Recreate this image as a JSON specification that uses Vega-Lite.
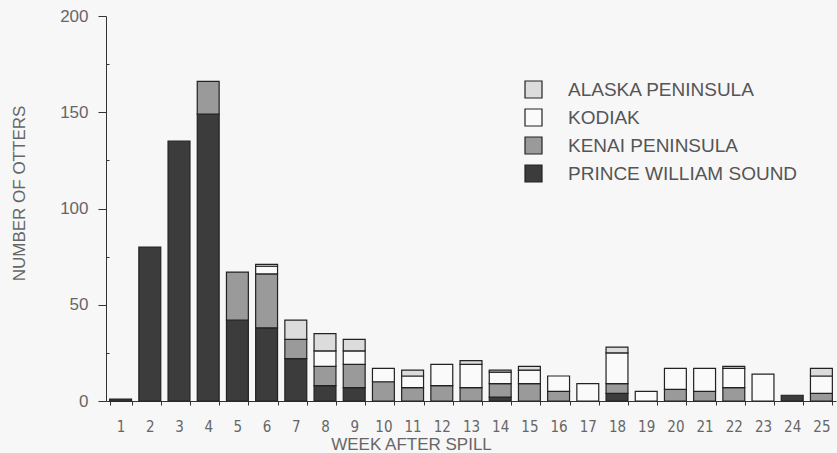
{
  "$schema": "https://vega.github.io/schema/vega-lite/v6.json",
  "width": 730,
  "height": 385,
  "autosize": {"type": "none"},
  "padding": {"left": 106, "top": 16, "right": 1, "bottom": 52},
  "background": "#f7f7f7",
  "config": {
    "view": {"stroke": null},
    "font": "Liberation Sans"
  },
  "data": {
    "values": [
      {"week": 1, "region": "PRINCE WILLIAM SOUND", "count": 1},
      {"week": 2, "region": "PRINCE WILLIAM SOUND", "count": 80},
      {"week": 3, "region": "PRINCE WILLIAM SOUND", "count": 135},
      {"week": 4, "region": "PRINCE WILLIAM SOUND", "count": 149},
      {"week": 4, "region": "KENAI PENINSULA", "count": 17},
      {"week": 5, "region": "PRINCE WILLIAM SOUND", "count": 42},
      {"week": 5, "region": "KENAI PENINSULA", "count": 25},
      {"week": 6, "region": "PRINCE WILLIAM SOUND", "count": 38},
      {"week": 6, "region": "KENAI PENINSULA", "count": 28},
      {"week": 6, "region": "KODIAK", "count": 4},
      {"week": 6, "region": "ALASKA PENINSULA", "count": 1},
      {"week": 7, "region": "PRINCE WILLIAM SOUND", "count": 22},
      {"week": 7, "region": "KENAI PENINSULA", "count": 10},
      {"week": 7, "region": "ALASKA PENINSULA", "count": 10},
      {"week": 8, "region": "PRINCE WILLIAM SOUND", "count": 8},
      {"week": 8, "region": "KENAI PENINSULA", "count": 10},
      {"week": 8, "region": "KODIAK", "count": 8},
      {"week": 8, "region": "ALASKA PENINSULA", "count": 9},
      {"week": 9, "region": "PRINCE WILLIAM SOUND", "count": 7},
      {"week": 9, "region": "KENAI PENINSULA", "count": 12},
      {"week": 9, "region": "KODIAK", "count": 7},
      {"week": 9, "region": "ALASKA PENINSULA", "count": 6},
      {"week": 10, "region": "KENAI PENINSULA", "count": 10},
      {"week": 10, "region": "KODIAK", "count": 7},
      {"week": 11, "region": "KENAI PENINSULA", "count": 7},
      {"week": 11, "region": "KODIAK", "count": 6},
      {"week": 11, "region": "ALASKA PENINSULA", "count": 3},
      {"week": 12, "region": "KENAI PENINSULA", "count": 8},
      {"week": 12, "region": "KODIAK", "count": 11},
      {"week": 13, "region": "KENAI PENINSULA", "count": 7},
      {"week": 13, "region": "KODIAK", "count": 12},
      {"week": 13, "region": "ALASKA PENINSULA", "count": 2},
      {"week": 14, "region": "PRINCE WILLIAM SOUND", "count": 2},
      {"week": 14, "region": "KENAI PENINSULA", "count": 7},
      {"week": 14, "region": "KODIAK", "count": 6},
      {"week": 14, "region": "ALASKA PENINSULA", "count": 1},
      {"week": 15, "region": "KENAI PENINSULA", "count": 9},
      {"week": 15, "region": "KODIAK", "count": 7},
      {"week": 15, "region": "ALASKA PENINSULA", "count": 2},
      {"week": 16, "region": "KENAI PENINSULA", "count": 5},
      {"week": 16, "region": "KODIAK", "count": 8},
      {"week": 17, "region": "KODIAK", "count": 9},
      {"week": 18, "region": "PRINCE WILLIAM SOUND", "count": 4},
      {"week": 18, "region": "KENAI PENINSULA", "count": 5},
      {"week": 18, "region": "KODIAK", "count": 16},
      {"week": 18, "region": "ALASKA PENINSULA", "count": 3},
      {"week": 19, "region": "KODIAK", "count": 5},
      {"week": 20, "region": "KENAI PENINSULA", "count": 6},
      {"week": 20, "region": "KODIAK", "count": 11},
      {"week": 21, "region": "KENAI PENINSULA", "count": 5},
      {"week": 21, "region": "KODIAK", "count": 12},
      {"week": 22, "region": "KENAI PENINSULA", "count": 7},
      {"week": 22, "region": "KODIAK", "count": 10},
      {"week": 22, "region": "ALASKA PENINSULA", "count": 1},
      {"week": 23, "region": "KODIAK", "count": 14},
      {"week": 24, "region": "PRINCE WILLIAM SOUND", "count": 3},
      {"week": 25, "region": "KENAI PENINSULA", "count": 4},
      {"week": 25, "region": "KODIAK", "count": 9},
      {"week": 25, "region": "ALASKA PENINSULA", "count": 4}
    ]
  },
  "transform": [
    {"calculate": "indexof(['PRINCE WILLIAM SOUND', 'KENAI PENINSULA', 'KODIAK', 'ALASKA PENINSULA'], datum.region)", "as": "stackOrder"}
  ],
  "mark": {"type": "bar", "stroke": "#222222", "strokeWidth": 1.2},
  "encoding": {
    "x": {
      "field": "week",
      "type": "ordinal",
      "scale": {"paddingInner": 0.25, "paddingOuter": 0.125},
      "axis": {
        "title": "WEEK AFTER SPILL",
        "labelAngle": 0,
        "tickBand": "extent",
        "tickSize": 4,
        "tickColor": "#333333",
        "domainColor": "#333333",
        "labelBaseline": "alphabetic",
        "labelPadding": 26,
        "labelFont": "DejaVu Sans Condensed, Liberation Sans",
        "labelFontSize": 15,
        "labelColor": "#666666",
        "titleFont": "Liberation Sans",
        "titleFontSize": 17,
        "titleFontWeight": "normal",
        "titleColor": "#666666",
        "titleX": 305,
        "titleY": 48,
        "titleAlign": "center",
        "titleBaseline": "alphabetic"
      }
    },
    "y": {
      "field": "count",
      "type": "quantitative",
      "stack": "zero",
      "scale": {"domain": [0, 200], "nice": false},
      "axis": {
        "title": "NUMBER OF OTTERS",
        "values": [0, 25, 50, 75, 100, 125, 150, 175, 200],
        "labelExpr": "datum.value % 50 === 0 ? datum.label : ''",
        "tickSize": {"condition": {"test": "datum.value % 50 === 0", "value": 8}, "value": -3},
        "tickColor": "#333333",
        "domainColor": "#333333",
        "grid": false,
        "labelPadding": 10,
        "labelFontSize": 17,
        "labelColor": "#666666",
        "titleFontSize": 17,
        "titleFontWeight": "normal",
        "titleColor": "#666666",
        "titleX": -87,
        "titleY": 177,
        "titleAlign": "center",
        "titleBaseline": "middle",
        "titleAngle": -90
      }
    },
    "order": {"field": "stackOrder", "type": "quantitative", "sort": "ascending"},
    "color": {
      "field": "region",
      "type": "nominal",
      "sort": ["ALASKA PENINSULA", "KODIAK", "KENAI PENINSULA", "PRINCE WILLIAM SOUND"],
      "scale": {
        "domain": ["ALASKA PENINSULA", "KODIAK", "KENAI PENINSULA", "PRINCE WILLIAM SOUND"],
        "range": ["#dcdcdc", "#fafafa", "#9a9a9a", "#3c3c3c"]
      },
      "legend": {
        "orient": "none",
        "legendX": 418,
        "legendY": 64,
        "title": null,
        "padding": 0,
        "symbolType": "square",
        "symbolSize": 289,
        "symbolStrokeColor": "#222222",
        "symbolStrokeWidth": 1.2,
        "symbolOpacity": 1,
        "labelFontSize": 19,
        "labelOffset": 25,
        "labelColor": "#555555",
        "rowPadding": 5,
        "labelLimit": 400
      }
    }
  }
}
